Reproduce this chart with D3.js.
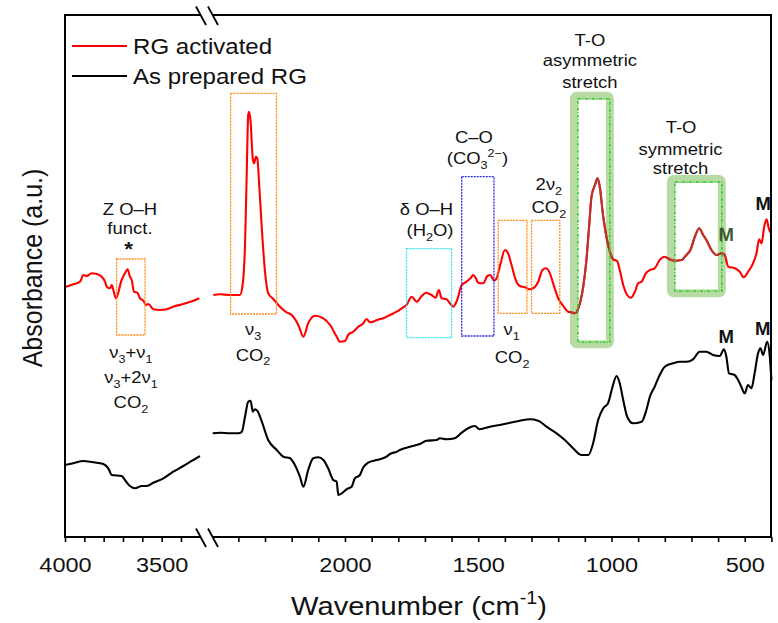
<!DOCTYPE html>
<html><head><meta charset="utf-8">
<script src="https://cdn.jsdelivr.net/npm/d3@7"></script>
<style>body{margin:0;background:#fff}svg{display:block}</style>
</head><body><svg id="c" width="778" height="623"></svg>
<script>
// ---------- DATA (wavenumber cm-1, absorbance a.u.) ----------
const redLeft = [[4000,2.50],[3957,2.527],[3922,2.553],[3905,2.62],[3888,2.61],[3862,2.637],[3836,2.63],[3810,2.603],[3793,2.553],[3784,2.503],[3767,2.487],[3758,2.52],[3750,2.47],[3736,2.387],[3707,2.57],[3690,2.637],[3676,2.677],[3664,2.603],[3655,2.57],[3643,2.453],[3626,2.443],[3612,2.387],[3595,2.363],[3581,2.32],[3569,2.33],[3543,2.277],[3509,2.27],[3474,2.277],[3440,2.303],[3388,2.33],[3336,2.363],[3305,2.387]];
const redRight = [[2494,2.42],[2469,2.427],[2431,2.42],[2394,2.42],[2384,2.52],[2375,2.92],[2369,3.587],[2363,4.22],[2359,4.253],[2354,4.153],[2346,3.787],[2341,3.737],[2334,3.803],[2329,3.787],[2321,3.487],[2312,3.087],[2300,2.653],[2288,2.437],[2269,2.38],[2244,2.303],[2219,2.247],[2200,2.22],[2175,2.12],[2156,2.003],[2138,2.137],[2113,2.213],[2081,2.187],[2056,2.12],[2031,2.003],[2019,1.953],[2000,1.96],[1988,2.02],[1969,2.053],[1950,2.103],[1931,2.137],[1919,2.18],[1906,2.147],[1888,2.16],[1869,2.18],[1856,2.187],[1831,2.22],[1806,2.253],[1787,2.287],[1769,2.32],[1750,2.403],[1731,2.353],[1712,2.41],[1696,2.443],[1675,2.42],[1660,2.393],[1648,2.47],[1637,2.387],[1619,2.377],[1606,2.337],[1594,2.303],[1579,2.37],[1562,2.52],[1544,2.553],[1529,2.587],[1519,2.62],[1509,2.587],[1500,2.543],[1481,2.537],[1466,2.61],[1454,2.62],[1441,2.563],[1431,2.587],[1416,2.737],[1400,2.87],[1388,2.837],[1375,2.72],[1359,2.57],[1344,2.51],[1325,2.497],[1309,2.477],[1294,2.487],[1275,2.553],[1259,2.67],[1246,2.687],[1231,2.637],[1219,2.537],[1200,2.387],[1181,2.31],[1163,2.253],[1144,2.243],[1138,2.237],[1121,2.313],[1106,2.503],[1094,2.77],[1084,3.103],[1075,3.403],[1062,3.52],[1052,3.587],[1044,3.503],[1031,3.203],[1019,3.003],[1006,2.853],[994,2.777],[979,2.76],[969,2.67],[956,2.52],[941,2.42],[927,2.393],[912,2.453],[900,2.537],[887,2.553],[871,2.637],[856,2.67],[838,2.687],[819,2.77],[803,2.803],[784,2.78],[762,2.763],[737,2.77],[719,2.82],[704,2.87],[687,3.003],[671,3.087],[656,3.02],[644,2.97],[625,2.87],[606,2.82],[587,2.837],[575,2.82],[562,2.703],[537,2.687],[519,2.653],[504,2.597],[487,2.653],[469,2.737],[456,2.837],[446,2.977],[437,2.937],[427,3.103],[418,3.177],[410,3.087],[400,3.03]];
const blackLeft = [[4000,0.72],[3957,0.737],[3905,0.76],[3871,0.753],[3836,0.743],[3802,0.73],[3776,0.687],[3758,0.62],[3707,0.61],[3690,0.57],[3664,0.51],[3638,0.487],[3603,0.51],[3577,0.51],[3543,0.543],[3491,0.587],[3440,0.653],[3388,0.71],[3336,0.77],[3302,0.81]];
const blackRight = [[2496,1.037],[2469,1.043],[2431,1.037],[2400,1.037],[2387,1.053],[2375,1.203],[2363,1.353],[2354,1.363],[2346,1.253],[2338,1.277],[2329,1.263],[2312,1.153],[2288,0.97],[2256,0.87],[2231,0.803],[2206,0.787],[2188,0.72],[2169,0.603],[2156,0.503],[2138,0.67],[2119,0.787],[2100,0.797],[2081,0.77],[2063,0.687],[2044,0.57],[2031,0.553],[2025,0.42],[2012,0.437],[1994,0.477],[1975,0.503],[1963,0.587],[1944,0.62],[1931,0.697],[1913,0.743],[1881,0.77],[1844,0.803],[1831,0.83],[1806,0.853],[1794,0.87],[1756,0.903],[1719,0.93],[1694,0.963],[1656,0.97],[1644,0.987],[1619,0.977],[1588,0.987],[1562,1.043],[1538,1.087],[1513,1.11],[1494,1.077],[1456,1.103],[1419,1.12],[1381,1.143],[1344,1.163],[1306,1.177],[1275,1.163],[1244,1.103],[1206,1.037],[1175,0.97],[1144,0.887],[1112,0.82],[1087,0.82],[1069,0.937],[1050,1.17],[1031,1.287],[1013,1.337],[996,1.503],[981,1.61],[969,1.537],[956,1.37],[941,1.203],[919,1.137],[887,1.153],[869,1.27],[856,1.403],[838,1.503],[819,1.62],[800,1.703],[769,1.737],[744,1.753],[719,1.753],[694,1.777],[669,1.853],[644,1.853],[619,1.82],[594,1.81],[578,1.877],[569,1.803],[559,1.637],[538,1.62],[525,1.57],[513,1.503],[500,1.437],[488,1.52],[475,1.487],[463,1.637],[450,1.837],[441,1.887],[431,1.82],[416,1.953],[406,1.803],[400,1.57]];
const seriesNames = ["RG activated", "As prepared RG"];
const leftTicks = [4000,3900,3800,3700,3600,3500,3400];
const rightTicks = [2400,2300,2200,2100,2000,1900,1800,1700,1600,1500,1400,1300,1200,1100,1000,900,800,700,600,500,400];
const tickLabels = [4000,3500,2000,1500,1000,500];
// annotation boxes: [segment, wnHigh, wnLow, absTop, absBottom, kind]
const boxes = [
  ["L",3733,3586,2.78,2.02,"orange"],
  ["R",2429,2257,4.437,2.23,"orange"],
  ["R",1769,1600,2.883,1.993,"cyan"],
  ["R",1562,1441,3.603,2.01,"blue"],
  ["R",1425,1317,3.167,2.237,"orange"],
  ["R",1300,1194,3.167,2.237,"orange"],
  ["R",1156,991,4.453,1.887,"green"],
  ["R",792,571,3.62,2.397,"green"]
];

// ---------- LAYOUT ----------
const SX = 1.12;
const FONT = "'Liberation Sans', Arial, sans-serif";
const svg = d3.select("#c");
const pL = 65, pR = 771, pT = 15, pB = 537;
const xL = d3.scaleLinear().domain([4000,3300]).range([65,200.3]);
const xR = d3.scaleLinear().domain([2500,400]).range([211.7,771.4]);
const y = d3.scaleLinear().domain([0,5.22]).range([537,15]);
const xs = s => s === "L" ? xL : xR;

function rich(g, x, yy, anchor, size, parts, opts = {}) {
  const sx = opts.sx || SX;
  const t = g.append("text")
    .attr("transform", `translate(${x},${yy}) scale(${sx},1)` + (opts.rotate ? ` rotate(${opts.rotate})` : ""))
    .attr("text-anchor", anchor).attr("font-family", FONT).attr("font-size", size)
    .attr("fill", opts.fill || "#111").attr("font-weight", opts.weight || "normal");
  let cur = 0;
  parts.forEach(p => {
    const [s, kind] = typeof p === "string" ? [p, ""] : p;
    const target = kind === "sub" ? size * 0.28 : kind === "sup" ? -size * 0.42 : 0;
    const ts = t.append("tspan").attr("font-size", kind ? size * 0.68 : size).text(s);
    if (target - cur !== 0) ts.attr("dy", target - cur);
    cur = target;
  });
  return t;
}

// ---------- BOXES (under curves) ----------
const colors = {orange:"#ff8c1a", cyan:"#33e6f0", blue:"#2a2ae6", green:"#33cc33"};
const gBox = svg.append("g");
boxes.forEach(([s,w1,w2,a1,a2,k]) => {
  const X = xs(s), x0 = X(w1), x1 = X(w2), y0 = y(a1), y1 = y(a2);
  if (k === "green") {
    gBox.append("rect").attr("x", x0+4).attr("y", y0+4).attr("width", x1-x0-8).attr("height", y1-y0-8)
      .attr("rx", 3).attr("fill", "none").attr("stroke", "#b7dba3").attr("stroke-width", 8);
  }
});

// ---------- CURVES ----------
const line = X => d3.line().x(d => X(d[0])).y(d => y(d[1])).curve(d3.curveMonotoneX);
const gC = svg.append("g").attr("fill", "none").attr("stroke-linejoin", "round");
[[blackLeft,xL,"#000"],[blackRight,xR,"#000"],[redLeft,xL,"#ff0000"],[redRight,xR,"#ff0000"]].forEach(([d,X,c]) => {
  gC.append("path").datum(d).attr("d", line(X)).attr("stroke", c).attr("stroke-width", 2.1);
});
const defs = svg.append("defs");
boxes.filter(b => b[5] === "green").forEach((b, i) => {
  const X = xs(b[0]);
  defs.append("clipPath").attr("id", "gc" + i).append("rect")
    .attr("x", X(b[1])).attr("y", y(b[3])).attr("width", X(b[2]) - X(b[1])).attr("height", y(b[4]) - y(b[3]));
  gC.append("path").datum(redRight).attr("d", line(xR)).attr("stroke", "#b8352e").attr("stroke-width", 2.1)
    .attr("clip-path", `url(#gc${i})`);
});

boxes.forEach(([s,w1,w2,a1,a2,k]) => {
  const X = xs(s), x0 = X(w1), x1 = X(w2), y0 = y(a1), y1 = y(a2);
  if (k === "green") {
    svg.append("rect").attr("x", x0+8).attr("y", y0+7).attr("width", x1-x0-12).attr("height", y1-y0-13)
      .attr("fill", "none").attr("stroke", colors.green).attr("stroke-width", 1.6).attr("stroke-dasharray", "3,1.5,1,1.5");
  } else {
    svg.append("rect").attr("x", x0).attr("y", y0).attr("width", x1-x0).attr("height", y1-y0)
      .attr("fill", "none").attr("stroke", colors[k]).attr("stroke-width", 1.3).attr("stroke-dasharray", "2,1");
  }
});

// ---------- AXES ----------
const gA = svg.append("g").attr("stroke", "#000").attr("stroke-width", 2).attr("fill", "none");
gA.append("line").attr("x1", pL).attr("x2", pL).attr("y1", pT-1).attr("y2", pB+1);
gA.append("line").attr("x1", pR).attr("x2", pR).attr("y1", pT-1).attr("y2", pB+1);
[pT, pB].forEach(yy => {
  gA.append("line").attr("x1", pL).attr("x2", 201).attr("y1", yy).attr("y2", yy);
  gA.append("line").attr("x1", 213).attr("x2", pR).attr("y1", yy).attr("y2", yy);
  gA.append("line").attr("x1", 196).attr("x2", 206).attr("y1", yy-8.5).attr("y2", yy+10).attr("stroke-width", 1.8);
  gA.append("line").attr("x1", 208).attr("x2", 218).attr("y1", yy-8.5).attr("y2", yy+10).attr("stroke-width", 1.8);
});
function axisFor(X, ticks) {
  const g = svg.append("g").attr("transform", `translate(0,${pB})`)
    .call(d3.axisBottom(X).tickValues(ticks).tickSize(5).tickSizeOuter(0)
      .tickFormat(d => tickLabels.includes(d) ? d : ""));
  g.select(".domain").remove();
  g.selectAll(".tick line").attr("stroke", "#000").attr("stroke-width", 1.6);
  g.selectAll(".tick text").attr("font-family", FONT).attr("font-size", 21).attr("fill", "#111")
    .attr("y", 35.5).attr("dy", null).attr("transform", `scale(${SX},1)`);
}
axisFor(xL, leftTicks);
axisFor(xR, rightTicks);

rich(svg, 419, 615, "middle", 26, ["Wavenumber (cm", ["-1","sup"], ")"]);
rich(svg, 42, 268, "middle", 25, ["Absorbance (a.u.)"], {rotate: -90});

// ---------- LEGEND ----------
[["#ff0000", 46, seriesNames[0]], ["#000", 76, seriesNames[1]]].forEach(([c, yy, t]) => {
  svg.append("line").attr("x1", 72).attr("x2", 127).attr("y1", yy).attr("y2", yy).attr("stroke", c).attr("stroke-width", 2);
  rich(svg, 133, yy + 7.5, "start", 21.5, [t]);
});

// ---------- ANNOTATIONS ----------
const A = 16.5;
const ann = [
  ["L",3664,3.22,["Z O–H"]],
  ["L",3664,3.03,["funct."]],
  ["L",3659,1.79,["ν",["3","sub"],"+ν",["1","sub"]]],
  ["L",3659,1.54,["ν",["3","sub"],"+2ν",["1","sub"]]],
  ["L",3659,1.29,["CO",["2","sub"]]],
  ["R",2345,2.02,["ν",["3","sub"]]],
  ["R",2345,1.763,["CO",["2","sub"]]],
  ["R",1694,3.22,["δ O–H"]],
  ["R",1681,3.01,["(H",["2","sub"],"O)"]],
  ["R",1516,3.937,["C–O"]],
  ["R",1503,3.73,["(CO",["3","sub"],["2−","sup"],")"]],
  ["R",1235,3.47,["2ν",["2","sub"]]],
  ["R",1235,3.24,["CO",["2","sub"]]],
  ["R",1375,2.02,["ν",["1","sub"]]],
  ["R",1373,1.74,["CO",["2","sub"]]],
  ["R",1081,4.91,["T-O"]],
  ["R",1081,4.713,["asymmetric"]],
  ["R",1081,4.487,["stretch"]],
  ["R",739,4.043,["T-O"]],
  ["R",741,3.82,["symmetric"]],
  ["R",741,3.63,["stretch"]]
];
ann.forEach(([s,w,a,parts]) => rich(svg, xs(s)(w), y(a), "middle", A, parts));
rich(svg, xL(3671), y(2.81), "middle", 20, ["*"], {weight: "bold"});
const marks = [["R",570,2.96,"#3d5a2e"],["R",431,3.27,"#111"],["R",570,1.94,"#111"],["R",433,2.02,"#111"]];
marks.forEach(([s,w,a,c]) => rich(svg, xs(s)(w), y(a), "middle", 18.5, ["M"], {weight: "bold", fill: c, sx: 1.0}));
</script></body></html>
